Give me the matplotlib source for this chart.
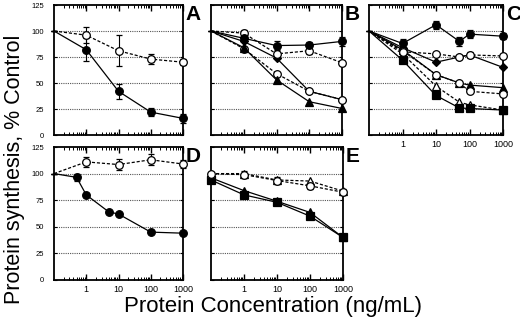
import matplotlib
matplotlib.use('Agg')
import matplotlib.pyplot as plt
import numpy as np

plt.rcParams['font.family'] = ['Liberation Sans', 'DejaVu Sans']

# concentrations (ng/mL); 0.1 stands for the control at the left border
x5 = [0.1, 1, 10, 100, 1000]
x_c = [0.1, 1, 10, 50, 100, 1000]
x_d = [0.1, 0.5, 1, 5, 10, 100, 1000]

# panel A
a_open = [100, 96, 81, 73, 70]
a_open_err = [0, 8, 15, 5, 3]
a_fill = [100, 82, 42, 22, 16]
a_fill_err = [0, 11, 7, 4, 4]

# panel B
b_fcirc = [100, 93, 86, 86.5, 90]
b_fcirc_err = [0, 3, 4, 3, 4]
b_ocirc = [100, 98, 78, 81, 69.5]
b_ocirc_err = [0, 3, 2, 3, 2]
b_fdiam = [100, 90, 74, 42, 34]
b_ocirc2 = [100, 83, 59, 42, 34]
b_ftri = [100, 84, 53, 32, 25.5]

# panel C
c_fcirc = [100, 88, 106, 90, 97, 95]
c_fcirc_err = [0, 4, 4, 4, 4, 3]
c_ocirc = [100, 80, 78, 75, 77, 76]
c_ocirc_err = [0, 3, 2, 2, 3, 2]
c_fdiam = [100, 84, 70, 75, 77, 65]
c_ftri = [100, 82, 58, 50, 48, 45.5]
c_odiam = [100, 81, 58, 50, 42, 39.5]
c_otri = [100, 78, 47, 31.5, 29, 24]
c_fsq = [100, 72, 38, 26, 25.5, 24]

# panel D
d_open = [100, 111, 108.5, 113, 109]
d_open_err = [0, 5, 5, 5, 4]
d_fill = [100, 96.5, 80, 64, 62, 45, 44]
d_fill_err = [0, 3, 2, 1, 1, 1, 1]

# panel E
e_fsq = [94, 80, 73, 60, 40]
e_ftri = [96, 84, 74, 63.5, 40]
e_ocirc = [100, 99, 93.5, 88.5, 82.5]
e_ocirc_err = [0, 3, 3, 3, 3]
e_otri = [100, 100, 94, 93, 83.5]

yticks = [0, 25, 50, 75, 100, 125]
xticks = [1, 10, 100, 1000]
xticklabels = ['1', '10', '100', '1000']

W, H = 520, 325
fig = plt.figure(figsize=(5.2, 3.25), dpi=100)


def make_ax(x0, x1, ytop, ybot, letter, ylabels, xlabels):
    ax = fig.add_axes([x0 / W, (H - ybot) / H, (x1 - x0) / W, (ybot - ytop) / H])
    ax.set_xscale('log')
    ax.set_xlim(0.1, 1000)
    ax.set_ylim(0, 125)
    for v in [25, 50, 75, 100]:
        ax.axhline(v, color='#555555', lw=0.8, ls=(0, (1, 1)), zorder=0)
    for s in ax.spines.values():
        s.set_linewidth(1.3)
    ax.set_yticks(yticks)
    ax.tick_params(axis='both', which='both', direction='in', top=True, right=True)
    ax.tick_params(axis='x', which='major', length=4, width=1)
    ax.tick_params(axis='x', which='minor', length=2, width=0.7)
    ax.tick_params(axis='y', length=2, width=0.8, labelsize=5.5, pad=7)
    ax.set_xticks(xticks)
    if xlabels:
        ax.set_xticklabels(xticklabels, fontsize=6.5)
    else:
        ax.set_xticklabels([])
    if not ylabels:
        ax.set_yticklabels([])
    ax.text(1.02, 0.93, letter, transform=ax.transAxes, fontsize=15,
            fontweight='bold', va='center', ha='left')
    return ax


def series(ax, x, y, marker, fill, ls, err=None, ms=5.5, first=False):
    ax.errorbar(x, y, yerr=err, color='black', lw=0.9, ls=ls, marker=marker,
                ms=ms, mfc='black' if fill else 'white', mec='black', mew=0.9,
                markevery=slice(0 if first else 1, None),
                ecolor='black', elinewidth=0.8, capsize=2, clip_on=False, zorder=3)


dash = (0, (2.5, 1.5))

ax = make_ax(54, 183, 5, 135, 'A', True, False)
series(ax, x5, a_open, 'o', False, dash, a_open_err)
series(ax, x5, a_fill, 'o', True, '-', a_fill_err)

ax = make_ax(211, 342, 5, 135, 'B', False, False)
series(ax, x5, b_fdiam, 'D', True, '-', ms=4)
series(ax, x5, b_ocirc2, 'o', False, dash)
series(ax, x5, b_ftri, '^', True, '-')
series(ax, x5, b_ocirc, 'o', False, dash, b_ocirc_err)
series(ax, x5, b_fcirc, 'o', True, '-', b_fcirc_err)

ax = make_ax(369, 503, 5, 135, 'C', False, True)
series(ax, x_c, c_fdiam, 'D', True, '-', ms=4)
series(ax, x_c, c_ftri, '^', True, '-')
series(ax, x_c, c_odiam, 'o', False, dash)
series(ax, x_c, c_otri, '^', False, dash)
series(ax, x_c, c_fsq, 's', True, '-')
series(ax, x_c, c_ocirc, 'o', False, dash, c_ocirc_err)
series(ax, x_c, c_fcirc, 'o', True, '-', c_fcirc_err)

ax = make_ax(54, 183, 147, 280, 'D', True, True)
series(ax, x5, d_open, 'o', False, dash, d_open_err)
series(ax, x_d, d_fill, 'o', True, '-', d_fill_err)

ax = make_ax(211, 343, 147, 280, 'E', False, True)
series(ax, x5, e_fsq, 's', True, '-', first=True)
series(ax, x5, e_ftri, '^', True, '-', first=True)
series(ax, x5, e_otri, '^', False, dash, first=True)
series(ax, x5, e_ocirc, 'o', False, dash, e_ocirc_err, first=True)

fig.text(0.028, 0.48, 'Protein synthesis, % Control', rotation=90,
         fontsize=15.5, ha='center', va='center')
fig.text(0.525, 0.058, 'Protein Concentration (ng/mL)', fontsize=16,
         ha='center', va='center')

fig.savefig('out.png', dpi=100)
